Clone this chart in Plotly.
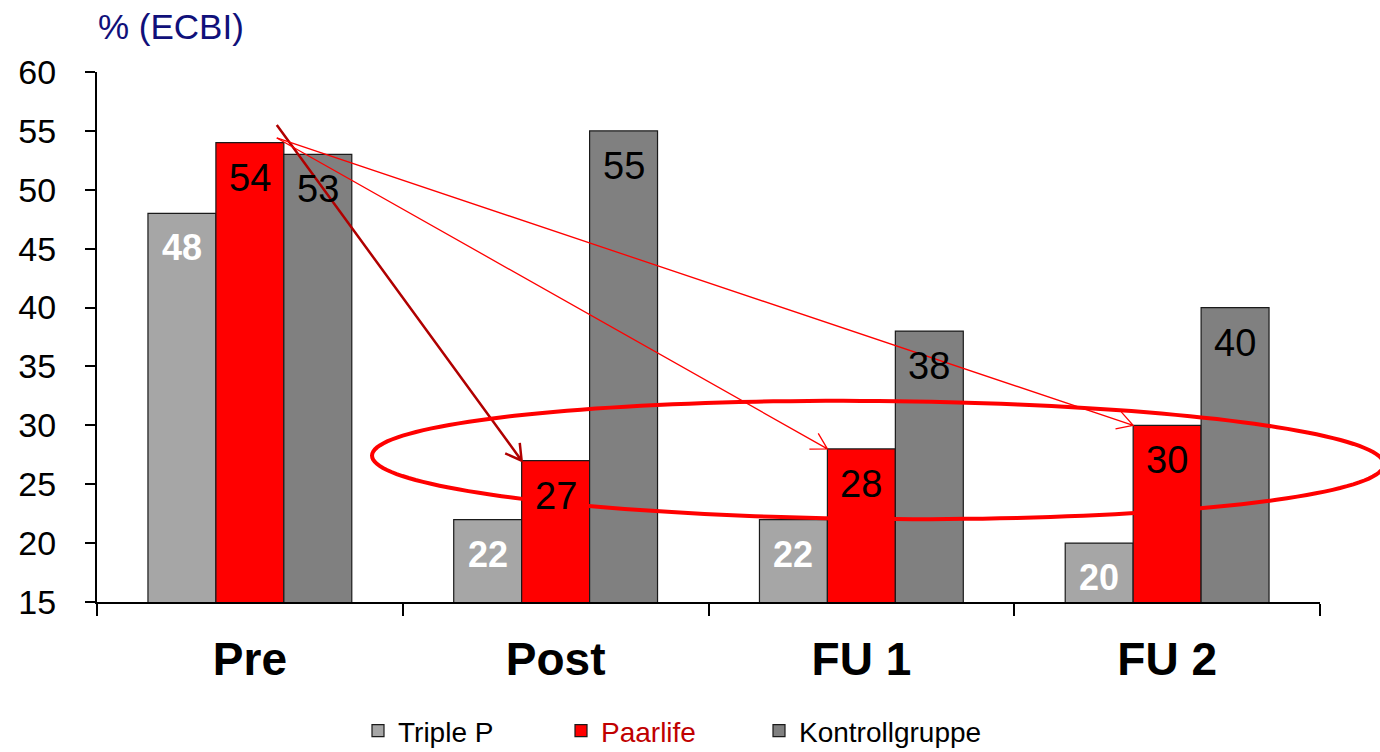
import math
import plotly.graph_objects as go

# ECBI scores per measurement point and group
categories = ["Pre", "Post", "FU 1", "FU 2"]
triple_p = [48, 22, 22, 20]
paarlife = [54, 27, 28, 30]
kontrollgruppe = [53, 55, 38, 40]
y_ticks = [15, 20, 25, 30, 35, 40, 45, 50, 55, 60]

FONT = "Arial, Liberation Sans, sans-serif"

# fixed page geometry
W, H = 1380, 752
ML, MR, MT, MB = 97, 60, 72, 150
PW = W - ML - MR
PH = H - MT - MB
Y0, Y1 = y_ticks[0], y_ticks[-1]
BARGAP = 1 / 3
SLOT = (1 - BARGAP) / 3


def px_x(xv):
    return ML + (xv + 0.5) / len(categories) * PW


def px_y(yv):
    return MT + (Y1 - yv) / (Y1 - Y0) * PH


def to_paper(px, py):
    return (px - ML) / PW, (MT + PH - py) / PH


def arrow_path(x0, y0, x1, y1, head=18, ang=30):
    sx, sy = px_x(x0), px_y(y0)
    ex, ey = px_x(x1), px_y(y1)
    d = math.hypot(ex - sx, ey - sy)
    ux, uy = (sx - ex) / d, (sy - ey) / d
    barbs = []
    for s in (1, -1):
        a = math.radians(ang * s)
        bx = ux * math.cos(a) - uy * math.sin(a)
        by = ux * math.sin(a) + uy * math.cos(a)
        barbs.append((ex + head * bx, ey + head * by))
    p = [to_paper(sx, sy), to_paper(ex, ey), to_paper(*barbs[0]), to_paper(*barbs[1])]
    f = lambda q: f"{q[0]:.5f},{q[1]:.5f}"
    return f"M{f(p[0])} L{f(p[1])} M{f(p[2])} L{f(p[1])} L{f(p[3])}"


def ellipse_path(cx, cy, rx, ry, rot_deg, n=180):
    r = math.radians(rot_deg)
    pts = []
    for k in range(n):
        t = 2 * math.pi * k / n
        x = rx * math.cos(t)
        y = ry * math.sin(t)
        px = cx + x * math.cos(r) - y * math.sin(r)
        py = cy + x * math.sin(r) + y * math.cos(r)
        pts.append(to_paper(px, py))
    return "M" + " L".join(f"{a:.5f},{b:.5f}" for a, b in pts) + " Z"


series = [
    ("Triple P", triple_p, "#A6A6A6", "legend", 358),
    ("<span style='color:#C00000'>Paarlife</span>", paarlife, "#FF0000", "legend2", 561),
    ("Kontrollgruppe", kontrollgruppe, "#808080", "legend3", 759),
]

fig = go.Figure()
for name, vals, color, lg, _ in series:
    fig.add_trace(go.Bar(
        x=categories, y=vals, name=name, legend=lg,
        marker=dict(color=color, line=dict(color="#1a1a1a", width=1.2)),
        hoverinfo="skip",
    ))

# value labels inside the top of each bar
annotations = []
label_styles = [
    dict(color="white", size=36, weight="bold"),
    dict(color="black", size=38),
    dict(color="black", size=38),
]
for si, (name, vals, color, lg, _) in enumerate(series):
    for ci, v in enumerate(vals):
        annotations.append(dict(
            x=ci + (si - 1) * SLOT, y=v, xref="x", yref="y",
            text=str(v), showarrow=False, yanchor="top", yshift=-12,
            font=dict(family=FONT, **label_styles[si]),
        ))

annotations.append(dict(
    x=to_paper(96, 0)[0], y=to_paper(0, 26)[1], xref="paper", yref="paper",
    xanchor="left", yanchor="middle", showarrow=False,
    text="% (ECBI)", font=dict(family=FONT, size=35, color="#10107A"),
))

# arrows from the Paarlife pre value to the later Paarlife values
start_main = (0.088, 55.5)
start_thin = (0.088, 54.4)
shapes = [
    dict(type="path", xref="paper", yref="paper", layer="above",
         path=arrow_path(*start_main, 1 - SLOT / 2, paarlife[1]),
         line=dict(color="#B00000", width=2.5)),
    dict(type="path", xref="paper", yref="paper", layer="above",
         path=arrow_path(*start_thin, 2 - SLOT / 2, paarlife[2]),
         line=dict(color="#FF0000", width=1.3)),
    dict(type="path", xref="paper", yref="paper", layer="above",
         path=arrow_path(*start_thin, 3 - SLOT / 2, paarlife[3]),
         line=dict(color="#FF0000", width=1.3)),
    dict(type="path", xref="paper", yref="paper", layer="above",
         path=ellipse_path(878, 460, 506, 59, 0.5),
         line=dict(color="#FF0000", width=4)),
]

legend_common = dict(
    orientation="h", xanchor="left", yanchor="middle",
    xref="container", yref="container",
    font=dict(family=FONT, size=28, color="black"),
    itemwidth=30, bgcolor="rgba(0,0,0,0)",
    itemclick=False, itemdoubleclick=False, borderwidth=0,
)
legend_layout = {}
for name, vals, color, lg, xpx in series:
    legend_layout[lg] = dict(legend_common, x=xpx / W, y=(H - 731) / H)

fig.update_layout(
    width=W, height=H, autosize=False,
    margin=dict(l=ML, r=MR, t=MT, b=MB, autoexpand=False),
    paper_bgcolor="white", plot_bgcolor="white",
    barmode="group", bargap=BARGAP, bargroupgap=0,
    font=dict(family=FONT, color="black"),
    showlegend=True,
    annotations=annotations,
    shapes=shapes,
    **legend_layout,
)
fig.update_xaxes(
    type="category", showline=True, linecolor="black", linewidth=2,
    ticks="outside", tickson="boundaries", ticklen=12, tickwidth=1.5, tickcolor="black",
    tickfont=dict(family=FONT, size=46, weight="bold", color="black"),
    ticklabelstandoff=16, showgrid=False, zeroline=False, automargin=False,
)
fig.update_yaxes(
    range=[Y0, Y1], tickvals=y_ticks, showline=True, linecolor="black", linewidth=2,
    ticks="outside", ticklen=10, tickwidth=1.5, tickcolor="black",
    tickfont=dict(family=FONT, size=34, color="black"),
    ticklabelstandoff=22, showgrid=False, zeroline=False, automargin=False,
)

fig.write_html("out.html")
